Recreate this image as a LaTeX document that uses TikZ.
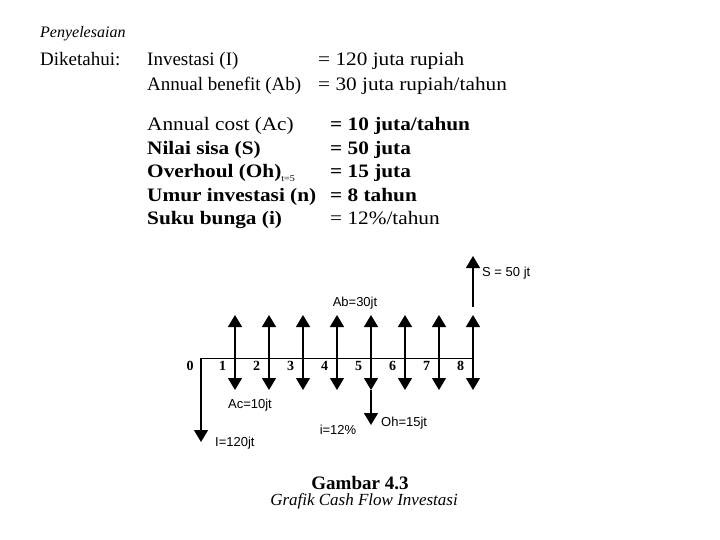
\documentclass[tikz,border=0pt]{standalone}
\usepackage{fontspec}
\setmainfont{Liberation Serif}
\setsansfont{Liberation Sans}
\newfontfamily\widefont[FakeStretch=1.12]{Liberation Serif}
\usetikzlibrary{arrows.meta}
\begin{document}
\begin{tikzpicture}[x=1pt,y=-1pt,
  txt/.style={anchor=base west,inner sep=0pt,font=\fontsize{19}{22}\selectfont},
  wtxt/.style={anchor=base west,inner sep=0pt,font=\widefont\fontsize{19}{22}\selectfont},
  lab/.style={inner sep=0pt,font=\sffamily\fontsize{13}{15}\selectfont},
  num/.style={inner sep=0pt,font=\bfseries\fontsize{14}{16}\selectfont},
  flow/.style={line width=1.3pt,-{Triangle[width=14pt,length=12pt]}},
  axisline/.style={line width=1pt}]
\useasboundingbox (0,0) rectangle (720,540);
% text block
\node[txt,font=\itshape\fontsize{16}{18}\selectfont] (pen) at (40,38) {Penyelesaian};
\node[txt] (dik) at (40,66) {Diketahui:};
\node[txt] (l1) at (147,66) {Investasi (I)};
\node[wtxt] (r1) at (318,66) {= 120 juta rupiah};
\node[txt] (l2) at (147,91) {Annual benefit (Ab)};
\node[wtxt] (r2) at (318,91) {= 30 juta rupiah/tahun};
\node[wtxt] (l3) at (147,131) {Annual cost (Ac)};
\node[wtxt] (r3) at (330,131) {\textbf{= 10 juta/tahun}};
\node[wtxt] (l4) at (147,155) {\textbf{Nilai sisa (S)}};
\node[wtxt] (r4) at (330,155) {\textbf{= 50 juta}};
\node[wtxt] (l5) at (147,178) {\textbf{Overhoul (Oh)}\raisebox{-4pt}{\fontsize{9}{9}\selectfont t=5}};
\node[wtxt] (r5) at (330,178) {\textbf{= 15 juta}};
\node[wtxt] (l6) at (147,202) {\textbf{Umur investasi (n)}};
\node[wtxt] (r6) at (330,202) {\textbf{= 8 tahun}};
\node[wtxt] (l7) at (147,225) {\textbf{Suku bunga (i)}};
\node[wtxt] (r7) at (330,225) {= 12\%/tahun};
% cash flow diagram
\coordinate (t0) at (201,358);
\coordinate (i0) at (201,442);
\foreach \k in {1,...,8}{
  \coordinate (t\k) at ({201+34*\k},358);
  \coordinate (u\k) at ({201+34*\k},315);
  \coordinate (d\k) at ({201+34*\k},390);
}
\draw[axisline] (t0) -- (t8);
\draw[flow] (t0) -- (i0);
\foreach \k in {1,...,8}{
  \draw[flow] (t\k) -- (u\k);
  \draw[flow] (t\k) -- (d\k);
  \node[num] (n\k) at ({201+34*\k-12.5},366) {\k};
}
\coordinate (oh) at (371,425);
\draw[flow] (d5) -- (oh);
\coordinate (s0) at (473,307);
\coordinate (s1) at (473,256);
\draw[flow] (s0) -- (s1);
\node[num] (n0) at (190,366) {0};
\node[lab] (abl) at (355,303) {Ab=30jt};
\node[lab,anchor=west] (sl) at (482,273) {S = 50 jt};
\node[lab] (acl) at (250,405) {Ac=10jt};
\node[lab] (il) at (338,430) {i=12\%};
\node[lab,anchor=west] (ohl) at (381,423) {Oh=15jt};
\node[lab,anchor=west] (Il) at (215,443) {I=120jt};
% caption
\node[inner sep=0pt,font=\bfseries\fontsize{19}{22}\selectfont] (g) at (360,483) {Gambar 4.3};
\node[inner sep=0pt,font=\itshape\fontsize{17}{20}\selectfont] (gc) at (364,501) {Grafik Cash Flow Investasi};
\end{tikzpicture}
\end{document}
